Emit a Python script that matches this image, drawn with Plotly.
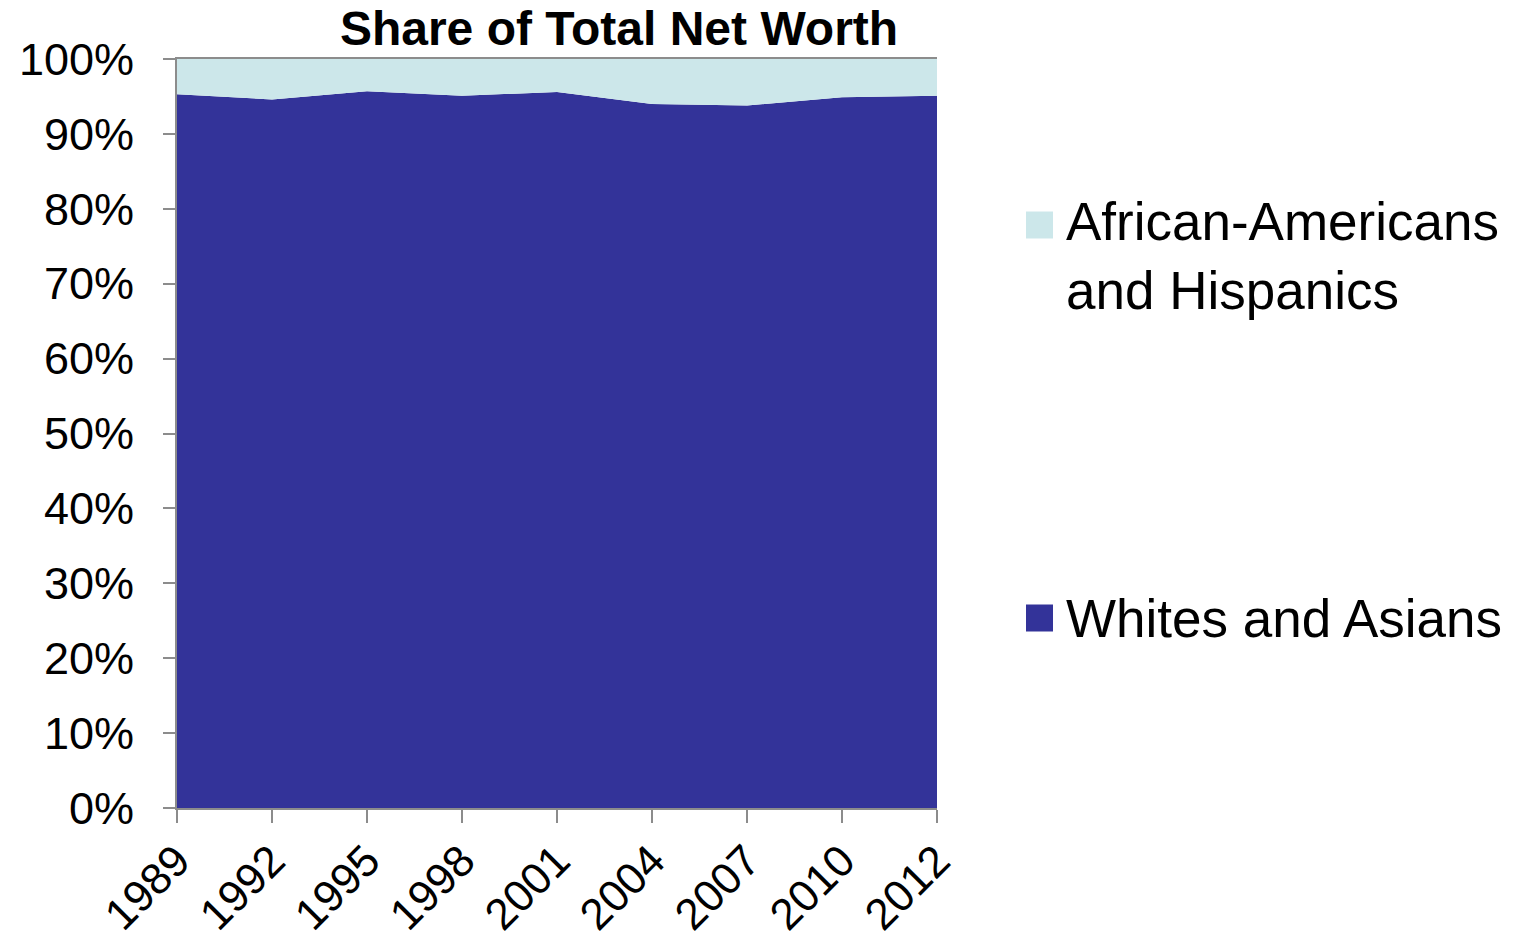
import plotly.graph_objects as go

years = ["1989", "1992", "1995", "1998", "2001", "2004", "2007", "2010", "2012"]
whites_asians = [95.3, 94.6, 95.7, 95.1, 95.6, 94.0, 93.8, 94.9, 95.1]
afam_hisp = [round(100 - v, 1) for v in whites_asians]

series_names = ["Whites and Asians", "African-Americans<br>and Hispanics"]
colors = ["#333399", "#CCE7EA"]

FONT = "Liberation Sans, Arial, sans-serif"

fig = go.Figure()
for name, vals, col in zip(series_names, [whites_asians, afam_hisp], colors):
    fig.add_trace(go.Scatter(
        x=years, y=vals, name=name, stackgroup="one", mode="none",
        fillcolor=col, line=dict(width=0), showlegend=False,
        hoverinfo="x+y+name",
    ))

fig.update_layout(
    width=1517, height=943, autosize=False,
    margin=dict(l=177, r=580, t=59, b=135),
    plot_bgcolor="white", paper_bgcolor="white",
    font=dict(family=FONT, color="black"),
    title=dict(text="<b>Share of Total Net Worth</b>", x=0.5816, xref="paper",
               xanchor="center", y=1 - 28 / 943, yref="container", yanchor="middle",
               font=dict(size=48, family=FONT, color="black")),
    showlegend=False,
)
fig.update_xaxes(
    type="category", range=[0, len(years) - 1], showgrid=False, automargin=False,
    showline=True, linecolor="#8C8C8C", linewidth=2, mirror=True,
    ticks="outside", ticklen=13, tickcolor="#8C8C8C", tickwidth=2,
    tickangle=-45, ticklabelstandoff=-6,
    tickfont=dict(size=44, family=FONT, color="black"),
)
fig.update_yaxes(
    range=[0, 100], dtick=10, ticksuffix="%", showgrid=False, zeroline=False,
    automargin=False, ticklabelstandoff=20,
    showline=True, linecolor="#8C8C8C", linewidth=2,
    ticks="outside", ticklen=12, tickcolor="#8C8C8C", tickwidth=2,
    tickfont=dict(size=45, family=FONT, color="black"),
)

# Manual legend (large swatches as in the reference)
legend_items = [
    (series_names[1], colors[1], 225, 256),
    (series_names[0], colors[0], 618, 618),
]
for name, col, sy, ty in legend_items:
    fig.add_shape(type="rect", xref="paper", yref="paper",
                  x0=(1026 - 177) / 760, x1=(1053 - 177) / 760,
                  y0=(808 - (sy + 13.5)) / 749, y1=(808 - (sy - 13.5)) / 749,
                  fillcolor=col, line=dict(width=0))
    fig.add_annotation(text=name, xref="paper", yref="paper",
                       x=(1064 - 177) / 760, y=(808 - ty) / 749,
                       xanchor="left", yanchor="middle", align="left",
                       showarrow=False, font=dict(size=53, family=FONT, color="black"))

fig.write_html("out.html")
